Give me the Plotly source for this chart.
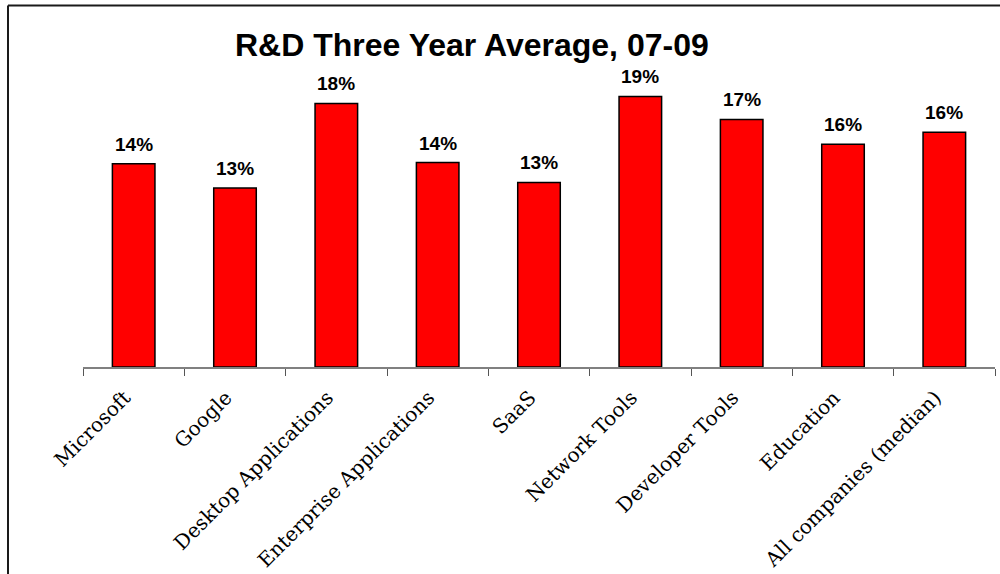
import plotly.graph_objects as go

categories = ["Microsoft", "Google", "Desktop Applications", "Enterprise Applications",
              "SaaS", "Network Tools", "Developer Tools", "Education", "All companies (median)"]
values = [0.1425, 0.1255, 0.1848, 0.1434, 0.1294, 0.1897, 0.1736, 0.1562, 0.1647]
labels = [f"{round(v * 100)}%" for v in values]

W, H = 1000, 574
ml, mr, mt, mb = 83, 5, 80, 207
pw, ph = W - ml - mr, H - mt - mb

fig = go.Figure()
fig.add_trace(go.Bar(
    x=categories, y=values, width=0.42,
    marker=dict(color="#FF0000", line=dict(color="#000000", width=1.5)),
    hoverinfo="skip",
))

for c, v, t in zip(categories, values, labels):
    fig.add_annotation(x=c, y=v, text=f"<b>{t}</b>", showarrow=False,
                       yanchor="bottom", yshift=7,
                       font=dict(family="Liberation Sans, Arial", size=19, color="#000000"))

fig.add_annotation(xref="paper", yref="paper", x=(471.5 - ml) / pw, y=(H - mb - 57) / ph,
                   text="<b>R&D Three Year Average, 07-09</b>", showarrow=False,
                   xanchor="center", yanchor="bottom", yshift=-8,
                   font=dict(family="Liberation Sans, Arial", size=32, color="#000000"))

# outer frame (top and left edges visible)
top_y = (H - mb - 5.5) / ph
left_x = (8 - ml) / pw
fig.add_shape(type="line", xref="paper", yref="paper",
              x0=left_x, x1=(1010 - ml) / pw, y0=top_y, y1=top_y,
              line=dict(color="#1a1a1a", width=2))
fig.add_shape(type="line", xref="paper", yref="paper",
              x0=left_x, x1=left_x, y0=top_y, y1=-1.5,
              line=dict(color="#1a1a1a", width=2))

fig.update_layout(
    width=W, height=H,
    margin=dict(l=ml, r=mr, t=mt, b=mb, pad=0, autoexpand=False),
    paper_bgcolor="white", plot_bgcolor="white",
    showlegend=False,
    xaxis=dict(
        automargin=False,
        showline=True, linecolor="#808080", linewidth=2,
        ticks="outside", tickson="boundaries", ticklen=7, tickcolor="#555555", tickwidth=1,
        tickangle=-45,
        tickmode="array", tickvals=categories,
        ticktext=[c + "\u00a0\u00a0" for c in categories],
        tickfont=dict(family="DejaVu Serif", size=20, color="#000000"),
        showgrid=False, zeroline=False,
    ),
    yaxis=dict(range=[0, ph / 1426.0], visible=False, showgrid=False, zeroline=False),
)

fig.write_html("out.html")
